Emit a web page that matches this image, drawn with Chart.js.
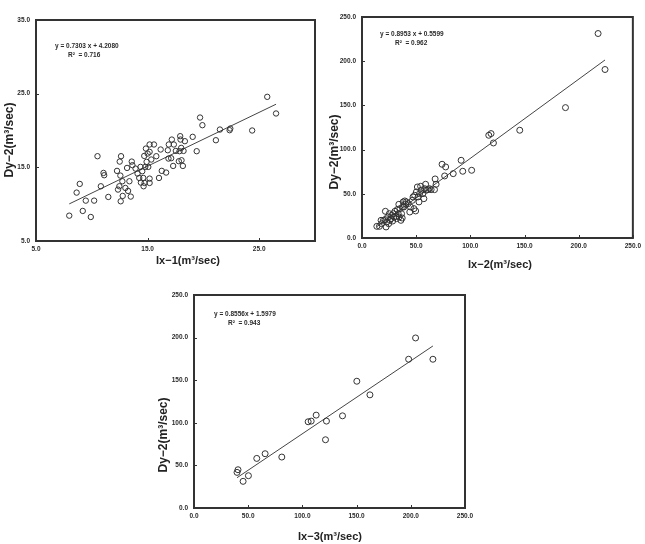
<!DOCTYPE html>
<html><head><meta charset="utf-8">
<script src="https://cdn.jsdelivr.net/npm/chart.js@4.4.1/dist/chart.umd.min.js"></script>
<style>
html,body{margin:0;padding:0;background:#fff;width:645px;height:544px;overflow:hidden;}
.c{position:absolute;}
</style></head><body>
<div class="c" style="left:0px;top:0px;width:322px;height:272px"><canvas id="c1" width="322" height="272"></canvas></div>
<div class="c" style="left:320px;top:0px;width:325px;height:275px"><canvas id="c2" width="325" height="275"></canvas></div>
<div class="c" style="left:150px;top:280px;width:330px;height:264px"><canvas id="c3" width="330" height="264"></canvas></div>
<script>
// ---------- Data ----------
const x1 = [7.98, 8.64, 8.92, 9.19, 9.46, 9.91, 10.21, 10.51, 10.81, 11.05, 11.11, 11.48, 12.26, 12.35, 12.47, 12.50, 12.56, 12.62, 12.59, 12.74, 12.77, 13.01, 13.16, 13.25, 13.37, 13.49, 13.58, 13.64, 13.92, 14.10, 14.25, 14.37, 14.40, 14.52, 14.61, 14.64, 14.70, 14.73, 14.79, 14.85, 14.91, 15.00, 15.06, 15.18, 15.18, 15.18, 15.18, 15.33, 15.57, 15.78, 16.02, 16.17, 16.27, 16.66, 16.81, 16.87, 16.90, 17.11, 17.17, 17.29, 17.35, 17.53, 17.80, 17.86, 17.92, 17.95, 18.01, 18.04, 18.16, 18.22, 18.34, 19.04, 19.40, 19.70, 19.91, 21.12, 21.48, 22.35, 22.41, 24.37, 25.72, 26.51];
const y1 = [8.44, 11.57, 12.75, 9.08, 10.48, 8.26, 10.48, 16.51, 12.43, 14.24, 13.93, 10.98, 14.52, 11.98, 12.43, 15.78, 13.88, 16.51, 10.39, 13.11, 11.12, 12.20, 14.92, 11.80, 13.11, 11.03, 15.78, 15.29, 14.83, 14.15, 13.56, 15.06, 12.93, 14.47, 13.56, 12.43, 16.55, 12.88, 15.06, 17.55, 15.74, 16.87, 15.06, 18.10, 17.10, 13.47, 12.88, 16.06, 18.10, 16.51, 13.56, 17.42, 14.52, 14.29, 17.32, 16.19, 18.10, 16.24, 18.77, 15.19, 18.10, 17.23, 15.83, 17.19, 19.23, 18.77, 17.64, 15.96, 15.19, 17.23, 18.55, 19.14, 17.19, 21.76, 20.72, 18.68, 20.13, 20.04, 20.27, 20.00, 24.57, 22.31];

const x2 = [13.7, 16.1, 17.6, 18.2, 19.8, 21.3, 21.6, 22.2, 22.8, 23.7, 24.6, 25.2, 25.8, 26.7, 27.4, 28.3, 28.9, 29.5, 30.4, 31.3, 31.9, 32.5, 33.4, 34.0, 34.3, 35.0, 35.9, 36.5, 37.1, 37.4, 38.0, 38.6, 39.5, 40.4, 41.0, 42.6, 44.1, 44.7, 46.5, 47.1, 48.0, 48.6, 49.5, 50.2, 51.1, 51.7, 52.6, 53.2, 54.1, 54.7, 56.2, 57.1, 57.8, 58.7, 59.3, 60.8, 62.3, 63.8, 66.9, 67.5, 68.4, 73.9, 76.3, 77.2, 84.2, 91.5, 93.0, 101.2, 117.0, 119.1, 121.3, 145.6, 187.8, 217.9, 224.3];
const y2 = [13.2, 13.2, 20.0, 16.2, 20.0, 20.8, 30.2, 12.5, 18.1, 23.8, 16.2, 27.5, 20.0, 21.9, 25.7, 19.2, 27.5, 23.8, 30.2, 24.5, 21.9, 32.1, 27.5, 38.1, 23.8, 33.2, 20.0, 27.5, 22.6, 35.1, 40.8, 35.1, 41.9, 38.1, 40.8, 38.9, 29.4, 35.1, 42.6, 46.4, 33.2, 48.3, 30.6, 52.1, 57.7, 46.4, 40.8, 50.2, 58.5, 54.0, 50.2, 44.5, 55.8, 60.8, 54.0, 54.7, 55.8, 54.7, 54.7, 66.8, 60.8, 83.4, 70.2, 80.4, 72.8, 87.9, 75.5, 76.6, 116.2, 118.1, 107.5, 121.9, 147.5, 231.3, 190.6];

const x3 = [39.7, 40.6, 45.3, 50.2, 57.9, 65.6, 81.0, 105.3, 108.1, 112.7, 121.3, 122.2, 137.0, 150.2, 162.3, 198.0, 204.4, 220.4];
const y3 = [41.8, 44.9, 31.3, 37.9, 58.2, 63.7, 59.8, 101.2, 102.0, 109.0, 80.1, 102.0, 108.2, 148.8, 132.8, 174.6, 199.6, 174.6];

// regression coefficients [slope, intercept]
const fit1 = [0.7303, 4.2080];
const fit2 = [0.8953, 0.5599];
const fit3 = [0.8556, 1.5979];

// equation labels
const eq1 = ["y = 0.7303 x + 4.2080", "R\u00B2  = 0.716"];
const eq2 = ["y = 0.8953 x + 0.5599", "R\u00B2  = 0.962"];
const eq3 = ["y = 0.8556x + 1.5979", "R\u00B2  = 0.943"];

// tick values
const xTicks1 = [5, 15, 25];
const yTicks1 = [5, 15, 25, 35];
const ticks250 = [0, 50, 100, 150, 200, 250];

// axis titles
const xTitle1 = "Ix\u22121(m\u00B3/sec)";
const xTitle2 = "Ix\u22122(m\u00B3/sec)";
const xTitle3 = "Ix\u22123(m\u00B3/sec)";
const yTitle = "Dy\u22122(m\u00B3/sec)";

// ---------- Rendering ----------
const FONT = "'Liberation Sans', Arial, sans-serif";
const INK = '#2a2a2a';

const framePlugin = {
  id: 'frame',
  afterDatasetsDraw(chart, args, opts) {
    const {ctx, chartArea: a, scales} = chart;
    ctx.save();
    ctx.strokeStyle = '#333';
    ctx.lineWidth = 2;
    ctx.strokeRect(a.left, a.top, a.right - a.left, a.bottom - a.top);
    ctx.lineWidth = 1;
    scales.x.ticks.forEach(t => {
      const p = Math.round(scales.x.getPixelForValue(t.value)) + 0.5;
      ctx.beginPath(); ctx.moveTo(p, a.bottom); ctx.lineTo(p, a.bottom - 3); ctx.stroke();
    });
    scales.y.ticks.forEach(t => {
      const p = Math.round(scales.y.getPixelForValue(t.value)) + 0.5;
      ctx.beginPath(); ctx.moveTo(a.left, p); ctx.lineTo(a.left + 3, p); ctx.stroke();
    });
    // regression equation
    ctx.fillStyle = INK;
    ctx.font = "bold 6.5px " + FONT;
    ctx.textBaseline = 'middle';
    ctx.textAlign = 'left';
    opts.lines.forEach(l => ctx.fillText(l.text, a.left + l.dx, a.top + l.dy));
    // axis titles
    ctx.fillStyle = '#222';
    ctx.textAlign = 'center';
    ctx.font = "bold 11px " + FONT;
    ctx.fillText(opts.xTitle.text, opts.xTitle.x, opts.xTitle.y);
    ctx.save();
    ctx.translate(opts.yTitle.x, opts.yTitle.y);
    ctx.rotate(-Math.PI / 2);
    ctx.font = "bold 12px " + FONT;
    ctx.fillText(opts.yTitle.text, 0, 0);
    ctx.restore();
    ctx.restore();
  }
};

function makeChart(id, xs, ys, fit, eq, cfg) {
  const pts = xs.map((x, i) => ({x: x, y: ys[i]}));
  const xmin = Math.min.apply(null, xs), xmax = Math.max.apply(null, xs);
  const trend = [xmin, xmax].map(x => ({x: x, y: fit[0] * x + fit[1]}));
  return new Chart(document.getElementById(id), {
    type: 'scatter',
    data: {
      datasets: [
        {data: pts, pointRadius: cfg.r, pointBorderWidth: 1, pointBorderColor: '#333',
         pointBackgroundColor: 'rgba(0,0,0,0)', showLine: false, order: 1},
        {data: trend, showLine: true, pointRadius: 0, borderColor: '#444', borderWidth: 1, order: 2}
      ]
    },
    options: {
      responsive: false, animation: false, devicePixelRatio: 1,
      layout: {padding: cfg.pad},
      plugins: {legend: {display: false}, tooltip: {enabled: false},
        frame: {
          lines: [{text: eq[0], dx: cfg.eq[0], dy: cfg.eq[1]}, {text: eq[1], dx: cfg.eq[2], dy: cfg.eq[3]}],
          xTitle: {text: cfg.xtitle, x: cfg.xtpos[0], y: cfg.xtpos[1]},
          yTitle: {text: yTitle, x: cfg.ytpos[0], y: cfg.ytpos[1]}
        }},
      scales: {
        x: {
          type: 'linear', min: cfg.xr[0], max: cfg.xr[1],
          grid: {display: false, drawTicks: false},
          border: {display: false},
          afterBuildTicks: s => { s.ticks = cfg.xt.map(v => ({value: v})); },
          afterFit: s => { s.height = cfg.xh; },
          ticks: {padding: 4, color: INK, font: {family: FONT, size: 6.5, weight: 'bold'}, maxRotation: 0,
                  callback: v => Number(v).toFixed(1)},
          title: {display: false}
        },
        y: {
          type: 'linear', min: cfg.yr[0], max: cfg.yr[1],
          grid: {display: false, drawTicks: false},
          border: {display: false},
          afterBuildTicks: s => { s.ticks = cfg.yt.map(v => ({value: v})); },
          afterFit: s => { s.width = cfg.yw; },
          ticks: {padding: 6, color: INK, font: {family: FONT, size: 6.5, weight: 'bold'},
                  callback: v => Number(v).toFixed(1)},
          title: {display: false}
        }
      }
    },
    plugins: [framePlugin]
  });
}

makeChart('c1', x1, y1, fit1, eq1, {
  r: 2.7, pad: {top: 20, right: 7, left: 0, bottom: 0},
  xr: [5, 30], yr: [5, 35], xt: xTicks1, yt: yTicks1,
  xh: 31, yw: 36, xtitle: xTitle1,
  xtpos: [188, 261], ytpos: [10, 140],
  eq: [19, 26, 32, 35]
});
makeChart('c2', x2, y2, fit2, eq2, {
  r: 3, pad: {top: 17, right: 12, left: 0, bottom: 0},
  xr: [0, 250], yr: [0, 250], xt: ticks250, yt: ticks250,
  xh: 37, yw: 42, xtitle: xTitle2,
  xtpos: [180, 265], ytpos: [15, 152],
  eq: [18, 17, 33, 26]
});
makeChart('c3', x3, y3, fit3, eq3, {
  r: 3, pad: {top: 15, right: 15, left: 0, bottom: 0},
  xr: [0, 250], yr: [0, 250], xt: ticks250, yt: ticks250,
  xh: 36, yw: 44, xtitle: xTitle3,
  xtpos: [180, 257], ytpos: [14, 155],
  eq: [20, 19, 34, 28]
});
</script>
</body></html>
